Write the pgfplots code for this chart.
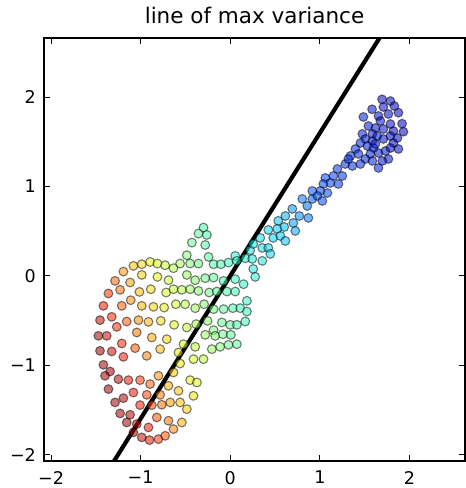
\documentclass[border=0pt]{standalone}
\usepackage{fontspec}
\setmainfont{DejaVu Sans}
\usepackage{pgfplots}
\usepackage{pgfplotstable}
\pgfplotsset{compat=1.18}
\pgfplotstableread{
x y
-0.298 0.540
-0.354 0.473
-0.261 0.458
-0.428 0.372
-0.279 0.346
-0.484 0.231
-0.242 0.212
0.056 0.223
0.223 0.287
-1.080 0.112
-0.987 0.130
-0.894 0.156
-0.812 0.138
-0.726 0.119
-0.633 0.086
-0.559 0.138
-0.447 0.138
-0.354 0.138
-0.186 0.130
-0.104 0.130
-0.019 0.149
0.074 0.168
0.168 0.197
-1.192 0.048
-0.987 0.011
-0.812 -0.011
-0.689 -0.048
-0.484 0.011
-0.391 -0.048
-0.279 -0.026
-0.186 -0.019
-0.074 -0.056
0.056 -0.037
0.149 -0.093
-1.285 -0.056
-1.117 -0.074
-1.229 -0.156
-1.013 -0.179
-0.886 -0.149
-0.715 -0.186
-0.633 -0.149
-0.540 -0.156
-0.447 -0.149
-0.354 -0.168
-0.235 -0.186
-0.149 -0.175
-0.037 -0.175
0.056 -0.175
-1.359 -0.197
-1.110 -0.272
-1.210 -0.335
-0.987 -0.335
-0.857 -0.346
-0.737 -0.354
-0.607 -0.317
-0.503 -0.317
-0.391 -0.361
-0.291 -0.317
-0.186 -0.372
-0.074 -0.372
0.030 -0.361
0.112 -0.361
0.186 -0.279
0.186 -0.399
-1.415 -0.335
-1.322 -0.458
-1.453 -0.495
-1.155 -0.510
-1.266 -0.570
-1.024 -0.495
-0.912 -0.514
-0.775 -0.503
-0.626 -0.547
-0.484 -0.577
-0.380 -0.540
-0.253 -0.503
-0.186 -0.607
-0.093 -0.521
0.000 -0.547
0.074 -0.547
0.168 -0.510
-1.471 -0.670
-1.378 -0.670
-1.043 -0.633
-1.210 -0.756
-0.875 -0.689
-0.708 -0.708
-0.521 -0.764
-0.391 -0.793
-0.279 -0.659
-0.168 -0.670
-0.082 -0.652
0.007 -0.659
-1.453 -0.838
-1.322 -0.845
-1.192 -0.905
-1.061 -0.808
-0.931 -0.894
-0.782 -0.819
-0.577 -0.857
-0.410 -0.931
-0.298 -0.931
-0.205 -0.819
-0.112 -0.793
-0.019 -0.771
0.074 -0.764
-1.415 -0.994
-1.341 -1.069
-1.397 -1.117
-1.248 -1.155
-1.136 -1.166
-1.006 -1.166
-0.894 -1.210
-0.801 -1.117
-0.689 -1.229
-0.633 -1.080
-0.559 -0.980
-0.447 -1.166
-0.372 -1.192
-1.359 -1.266
-1.192 -1.367
-1.080 -1.304
-0.931 -1.330
-0.782 -1.330
-0.670 -1.415
-0.577 -1.285
-0.410 -1.341
-0.559 -1.415
-0.484 -1.490
-1.285 -1.415
-1.229 -1.538
-1.117 -1.553
-1.006 -1.445
-0.875 -1.445
-0.764 -1.441
-1.155 -1.639
-1.043 -1.657
-0.912 -1.695
-0.819 -1.583
-0.689 -1.620
-0.633 -1.713
-0.540 -1.639
-1.080 -1.750
-0.987 -1.806
-0.901 -1.836
-0.801 -1.825
-0.726 -1.788
0.804 0.860
0.860 0.782
0.916 0.860
0.693 0.749
0.771 0.670
0.872 0.648
0.615 0.670
0.536 0.615
0.603 0.547
0.704 0.592
0.726 0.503
0.525 0.525
0.425 0.514
0.480 0.425
0.559 0.447
0.615 0.391
0.335 0.425
0.257 0.358
0.358 0.313
0.425 0.313
0.447 0.246
0.358 0.168
0.246 0.190
0.257 0.078
0.279 -0.011
1.542 1.676
1.620 1.654
1.587 1.587
1.475 1.587
1.508 1.531
1.587 1.508
1.642 1.564
1.453 1.486
1.531 1.453
1.598 1.430
1.654 1.374
1.397 1.419
1.430 1.363
1.564 1.363
1.508 1.307
1.453 1.251
1.587 1.285
1.654 1.207
1.341 1.341
1.285 1.251
1.363 1.229
1.318 1.307
1.196 1.196
1.251 1.117
1.151 1.117
1.061 1.095
1.117 1.039
1.207 1.028
1.039 1.028
1.084 0.927
1.006 0.950
0.972 0.894
0.916 0.950
1.028 0.838
1.695 1.974
1.788 1.955
1.832 1.899
1.877 1.825
1.709 1.888
1.583 1.863
1.654 1.788
1.765 1.810
1.486 1.777
1.918 1.702
1.933 1.612
1.821 1.620
1.788 1.698
1.877 1.419
1.821 1.486
1.732 1.397
1.765 1.307
1.698 1.285
1.709 1.531
1.620 1.475
1.676 1.732
1.709 1.642
1.866 1.542
1.788 1.564
1.788 1.430
}\guitar
\pgfplotsset{
  colormap={guitarjet}{[1pt]
    rgb(0pt)=(0.64,0,0);
    rgb(2pt)=(1,0.11,0);
    rgb(6pt)=(1,0.70,0);
    rgb(9pt)=(0.89,1,0.08);
    rgb(14pt)=(0.42,1,0.55);
    rgb(17pt)=(0.23,1,0.74);
    rgb(24pt)=(0,0.82,1);
    rgb(30pt)=(0,0.3,1);
    rgb(42pt)=(0,0,0.77)}
}
\begin{document}
\begin{tikzpicture}
\begin{axis}[
  scale only axis,
  width=421bp, height=423bp,
  xmin=-2.078, xmax=2.62,
  ymin=-2.07, ymax=2.66,
  axis line style={line width=1.3bp},
  tick style={line width=0.8bp, black},
  major tick length=5.8bp,
  tick align=inside,
  xtick={-2,-1,0,1,2},
  xticklabels={−2,−1,0,1,2},
  ytick={-2,-1,0,1,2},
  yticklabels={−2,−1,0,1,2},
  ticklabel style={font=\fontsize{17.5bp}{20bp}\selectfont},
  xticklabel style={anchor=north, inner sep=0pt, yshift=-10bp},
  yticklabel style={anchor=east, inner sep=0pt, xshift=-8bp},
  title={line of max variance},
  title style={font=\fontsize{21.5bp}{25bp}\selectfont, anchor=base, at={(0.5,1)}, yshift=8.7bp, inner sep=0pt},
  colormap name=guitarjet,
  point meta min=-1.7, point meta max=2.5,
]
\addplot[scatter, only marks, mark=*, mark size=4.4bp,
  scatter/use mapped color={draw=black, fill=mapped color},
  mark options={line width=1.1bp, draw opacity=0.5, fill opacity=0.55},
  point meta={\thisrow{x}+0.35*\thisrow{y}}]
  table[x=x, y=y] {\guitar};
\addplot[black, line width=4.2bp] coordinates {(-1.4,-2.236) (1.7,2.715)};
\end{axis}
\pgfresetboundingbox
\path ([xshift=-44bp,yshift=-27bp]current axis.south west) rectangle ([xshift=1bp,yshift=38bp]current axis.north east);
\end{tikzpicture}
\end{document}
